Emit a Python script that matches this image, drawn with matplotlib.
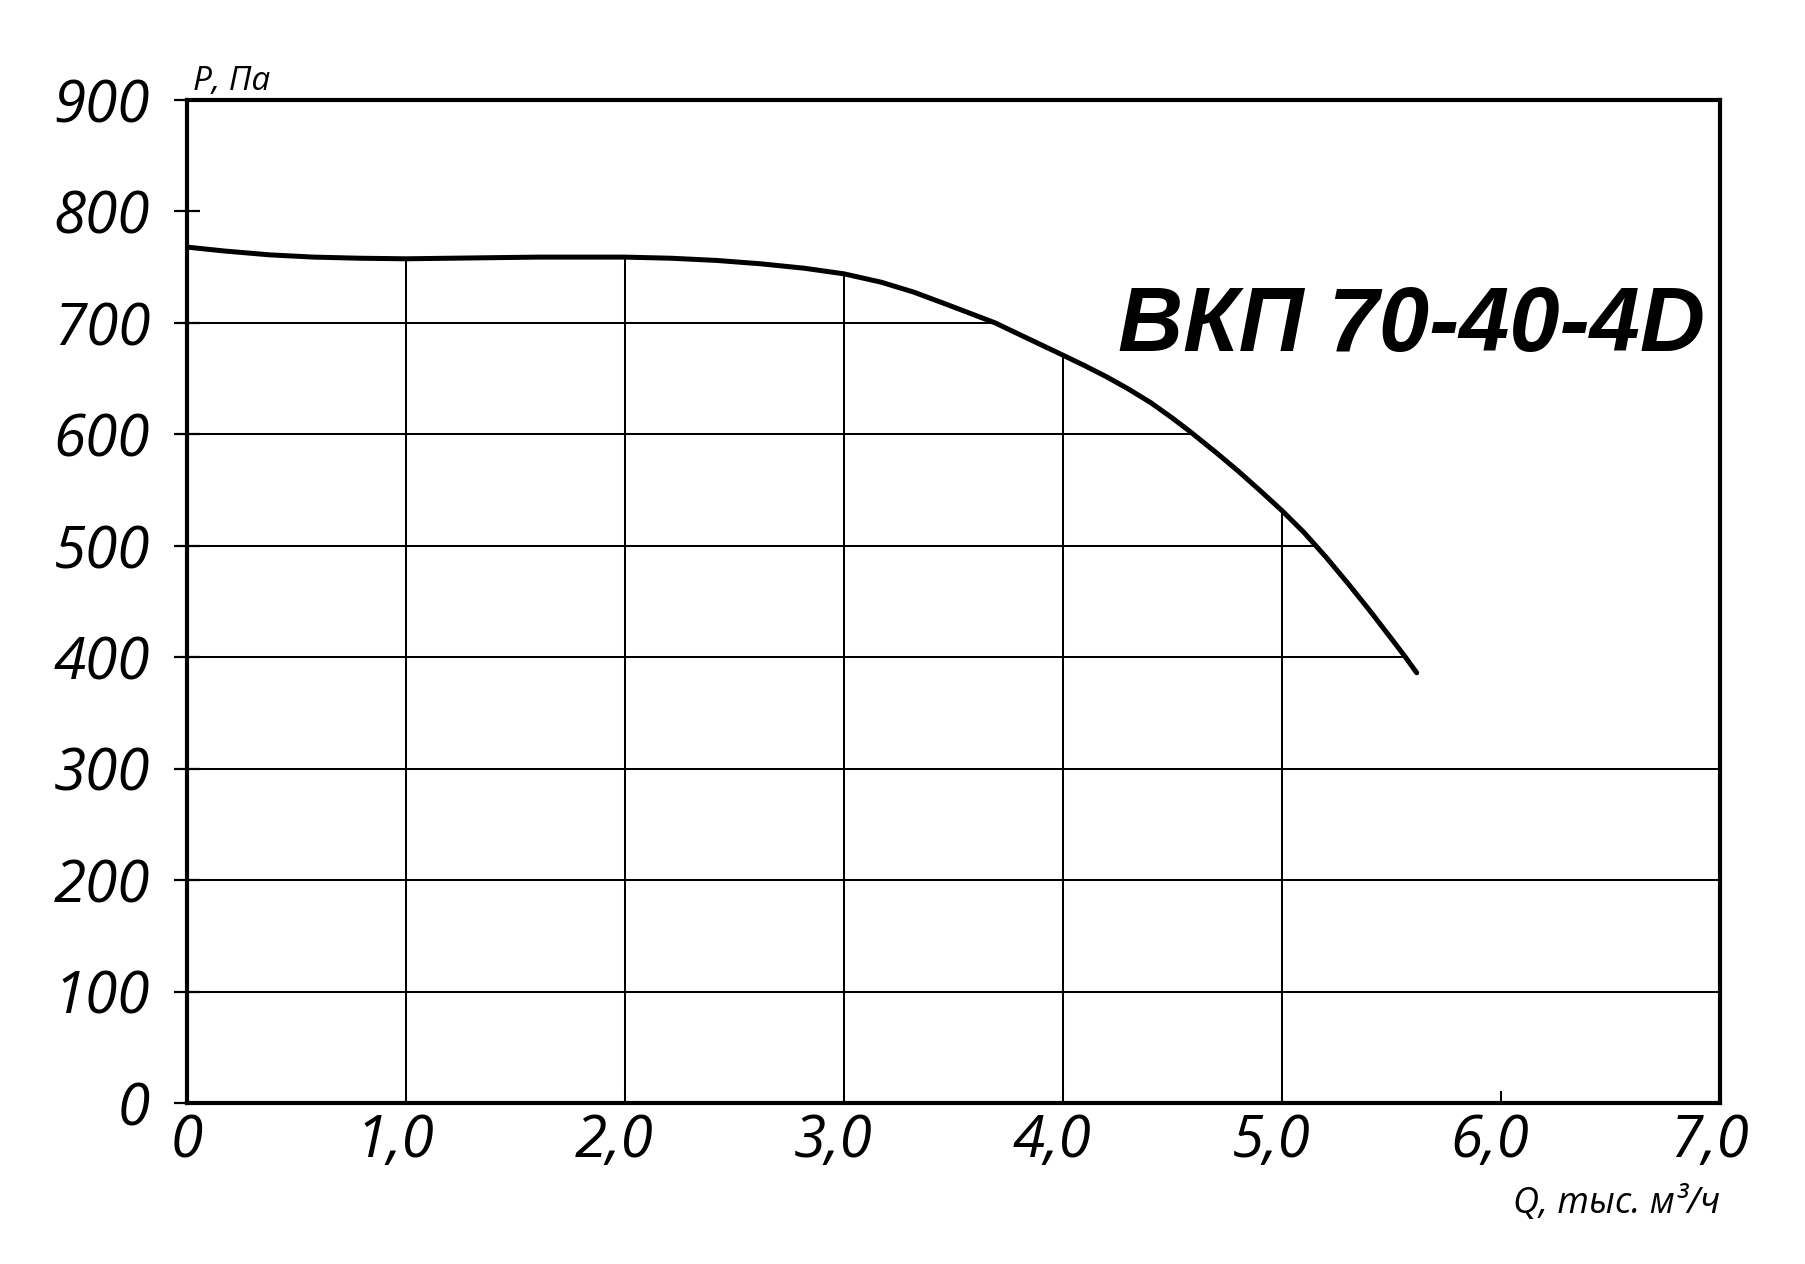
import numpy as np
import matplotlib
matplotlib.use("Agg")
import matplotlib.pyplot as plt
import matplotlib.transforms as mtransforms

# fan curve: Q in thousand m3/h, P in Pa
q_flow = [0.0, 0.17, 0.38, 0.58, 0.79, 1.0, 1.2, 1.6, 2.0, 2.21, 2.42, 2.62,
          2.82, 3.0, 3.17, 3.32, 3.47, 3.55, 3.69, 3.85, 4.0, 4.1, 4.2, 4.3,
          4.4, 4.5, 4.58, 4.7, 4.8, 4.9, 5.0, 5.1, 5.15, 5.2, 5.3, 5.4, 5.5,
          5.56, 5.615]
p_press = [768, 764.5, 761, 759, 758, 757.5, 758, 759, 759, 758, 756, 753,
           749, 744, 736.5, 727.5, 716.5, 710.5, 700, 685, 671, 661.5, 651.5,
           640.5, 628.5, 614.5, 602.5, 583.5, 567, 549.5, 531.5, 512, 501,
           490, 466.5, 442, 416.5, 401, 386]

x_ticks = [0, 1, 2, 3, 4, 5, 6, 7]
x_labels = ["0", "1,0", "2,0", "3,0", "4,0", "5,0", "6,0", "7,0"]
y_ticks = [0, 100, 200, 300, 400, 500, 600, 700, 800, 900]
y_grid = [100, 200, 300, 400, 500, 600, 700]
x_grid = [1, 2, 3, 4, 5]

title = "ВКП 70-40-4D"
y_title = "P, Па"
x_title = "Q, тыс. м³/ч"

q = np.array(q_flow)
p = np.array(p_press)

fig = plt.figure(figsize=(18.06, 12.64), dpi=100)
ax = fig.add_axes([0.1035, 0.1274, 0.8489, 0.7935])

ax.set_xlim(0, 7)
ax.set_ylim(0, 900)

# grid only under the curve
for xv in x_grid:
    top = np.interp(xv, q, p)
    ax.plot([xv, xv], [0, top], color="black", lw=1.45, zorder=1)

tail = q >= 3.0
for yv in y_grid:
    if yv >= p[-1]:
        xend = np.interp(yv, p[tail][::-1], q[tail][::-1])
    else:
        xend = 7
    ax.plot([0, xend], [yv, yv], color="black", lw=1.45, zorder=1)

ax.plot(q, p, color="black", lw=3.6, solid_capstyle="round",
        solid_joinstyle="round", zorder=3)

for s in ax.spines.values():
    s.set_linewidth(3.0)
    s.set_color("black")

tick_font = dict(family="Open Sans", style="italic", size=42)

ax.set_yticks(y_ticks)
ax.set_yticklabels([str(v) for v in y_ticks], fontdict=tick_font)
ax.tick_params(axis="y", direction="inout", length=19, width=1.6, pad=17)

ax.set_xticks(x_ticks)
ax.set_xticklabels(x_labels, fontdict=tick_font)
ax.tick_params(axis="x", direction="in", length=9, width=1.45, pad=7)

# the decimal labels sit a little left of their ticks
shift = mtransforms.ScaledTranslation(-0.11, 0, fig.dpi_scale_trans)
for lab in ax.get_xticklabels()[1:]:
    lab.set_transform(lab.get_transform() + shift)

ax.text(0.004, 1.010, y_title, transform=ax.transAxes, ha="left", va="baseline",
        family="Open Sans", style="italic", size=24)
ax.text(1.0, -0.1097, x_title, transform=ax.transAxes, ha="right", va="baseline",
        family="Open Sans", style="italic", size=26)

ax.text(0.990, 0.7498, title, transform=ax.transAxes, ha="right", va="baseline",
        family="Liberation Sans", weight="bold", style="italic", size=65)

fig.savefig("out.png", dpi=100, facecolor="white")
